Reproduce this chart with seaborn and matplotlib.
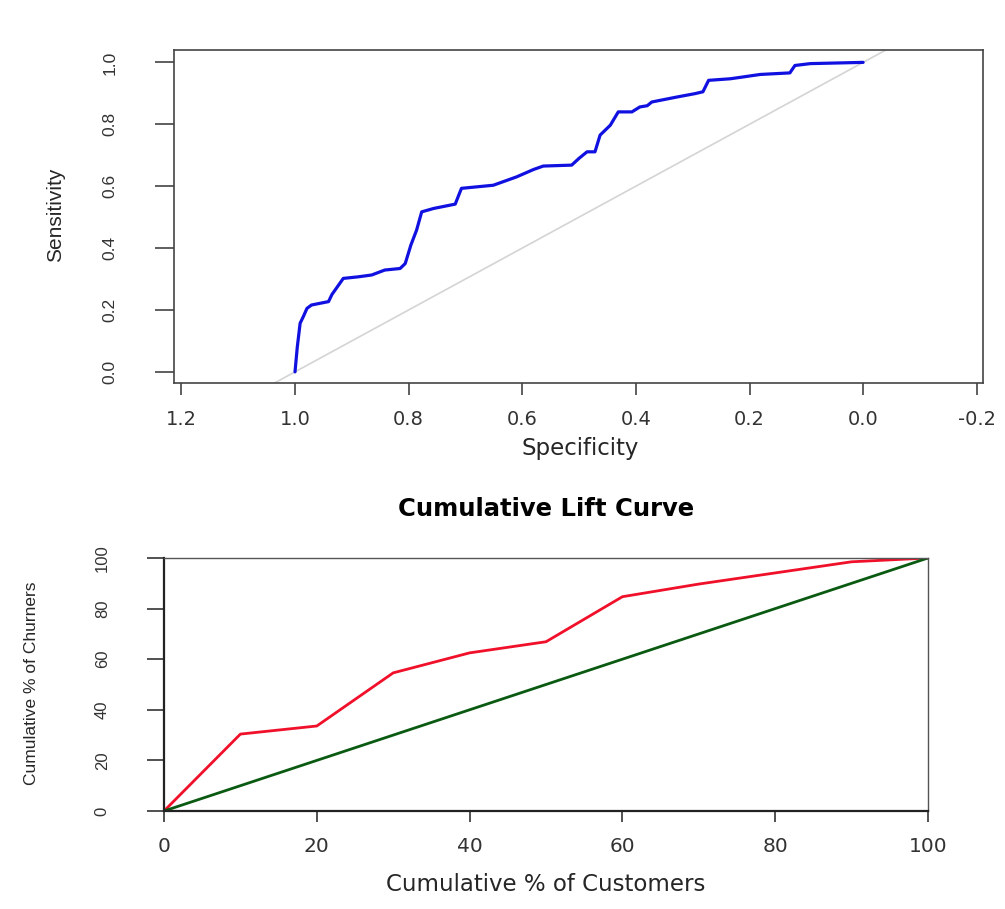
import matplotlib
matplotlib.use("Agg")
import matplotlib.pyplot as plt
import seaborn as sns

# ROC curve (specificity goes from 1 down to 0)
roc_specificity = [1.000, 0.996, 0.991, 0.985, 0.979, 0.971, 0.941, 0.935, 0.915,
                   0.889, 0.865, 0.842, 0.815, 0.806, 0.796, 0.786, 0.777, 0.756,
                   0.718, 0.712, 0.707, 0.651, 0.610, 0.580, 0.563, 0.513, 0.500,
                   0.486, 0.472, 0.463, 0.445, 0.431, 0.407, 0.393, 0.380, 0.372,
                   0.328, 0.296, 0.282, 0.272, 0.234, 0.211, 0.181, 0.129, 0.120,
                   0.093, 0.000]
roc_sensitivity = [0.000, 0.080, 0.157, 0.180, 0.205, 0.216, 0.227, 0.250, 0.302,
                   0.307, 0.313, 0.329, 0.334, 0.350, 0.410, 0.458, 0.517, 0.528,
                   0.542, 0.570, 0.593, 0.603, 0.630, 0.654, 0.665, 0.668, 0.690,
                   0.711, 0.711, 0.765, 0.797, 0.840, 0.840, 0.856, 0.860, 0.872,
                   0.888, 0.899, 0.905, 0.942, 0.947, 0.953, 0.961, 0.966, 0.990,
                   0.996, 1.000]

# cumulative lift (bottom panel)
lift_customers = [0, 10, 20, 30, 40, 50, 60, 70, 80, 90, 100]
lift_churners = [0, 30.4, 33.6, 54.6, 62.5, 66.9, 84.7, 89.7, 94.1, 98.5, 100]
baseline_churners = [0, 10, 20, 30, 40, 50, 60, 70, 80, 90, 100]

roc_x_ticks = [1.2, 1.0, 0.8, 0.6, 0.4, 0.2, 0.0, -0.2]
roc_y_ticks = [0.0, 0.2, 0.4, 0.6, 0.8, 1.0]
lift_ticks = [0, 20, 40, 60, 80, 100]

sns.set_theme(style="white")
plt.rcParams["font.family"] = ["DejaVu Sans"]
plt.rcParams["text.color"] = "#333333"
plt.rcParams["xtick.color"] = "#333333"
plt.rcParams["ytick.color"] = "#333333"

fig = plt.figure(figsize=(10.05, 9.09), dpi=100)
fig.patch.set_facecolor("white")

# ---- top panel: ROC curve ----
ax1 = fig.add_axes([174 / 1005, (909 - 383) / 909, 809 / 1005, 333 / 909])
ax1.axline((1, 0), (0, 1), color="#d4d4d4", linewidth=1.2, zorder=1)
sns.lineplot(x=roc_specificity, y=roc_sensitivity, sort=False, estimator=None,
             color="#1010e0", linewidth=2.3, ax=ax1, zorder=2)
ax1.set_xlim(1.213, -0.211)
ax1.set_ylim(-0.036, 1.04)
ax1.set_xticks(roc_x_ticks)
ax1.set_xticklabels([f"{t:.1f}" for t in roc_x_ticks], fontsize=14)
ax1.set_yticks(roc_y_ticks)
ax1.set_yticklabels([f"{t:.1f}" for t in roc_y_ticks], rotation=90, va="center",
                    fontsize=12.5, family="Liberation Sans")
ax1.tick_params(axis="x", direction="out", length=8.5, width=1.1, pad=11, bottom=True)
ax1.tick_params(axis="y", direction="out", length=13.5, width=1.1, pad=27, left=True)
ax1.set_xlabel("Specificity", fontsize=16.5, va="center")
ax1.xaxis.set_label_coords(0.502, -0.198)
ax1.set_ylabel("Sensitivity", fontsize=15, va="center", family="Liberation Sans")
ax1.yaxis.set_label_coords(-0.147, 0.505)
for side in ["top", "right", "bottom", "left"]:
    ax1.spines[side].set_color("#444444")
    ax1.spines[side].set_linewidth(1.2)

# ---- bottom panel: cumulative lift ----
ax2 = fig.add_axes([164 / 1005, (909 - 811) / 909, 764 / 1005, 253 / 909])
sns.lineplot(x=lift_customers, y=lift_churners, estimator=None,
             color="#f0102a", linewidth=2.0, ax=ax2)
sns.lineplot(x=lift_customers, y=baseline_churners, estimator=None,
             color="#0b5a12", linewidth=2.0, ax=ax2)
ax2.set_xlim(0, 100)
ax2.set_ylim(0, 100)
ax2.set_xticks(lift_ticks)
ax2.set_xticklabels([str(t) for t in lift_ticks], fontsize=14.5)
ax2.set_yticks(lift_ticks)
ax2.set_yticklabels([str(t) for t in lift_ticks], rotation=90, va="center",
                    fontsize=12, family="Liberation Sans")
ax2.tick_params(axis="x", direction="out", length=8, width=1.2, pad=11, bottom=True)
ax2.tick_params(axis="y", direction="out", length=12, width=1.2, pad=27, left=True)
ax2.set_title("Cumulative Lift Curve", fontsize=17.5, fontweight="bold",
              color="black", y=1.162, va="center")
ax2.set_xlabel("Cumulative % of Customers", fontsize=16.5, va="center")
ax2.xaxis.set_label_coords(0.5, -0.292)
ax2.set_ylabel("Cumulative % of Churners", fontsize=12.5, va="center",
               family="Liberation Sans")
ax2.yaxis.set_label_coords(-0.173, 0.506)
for side in ["left", "bottom"]:
    ax2.spines[side].set_color("#222222")
    ax2.spines[side].set_linewidth(1.6)
for side in ["top", "right"]:
    ax2.spines[side].set_color("#555555")
    ax2.spines[side].set_linewidth(1.0)

fig.savefig("out.png", dpi=100, facecolor="white")
